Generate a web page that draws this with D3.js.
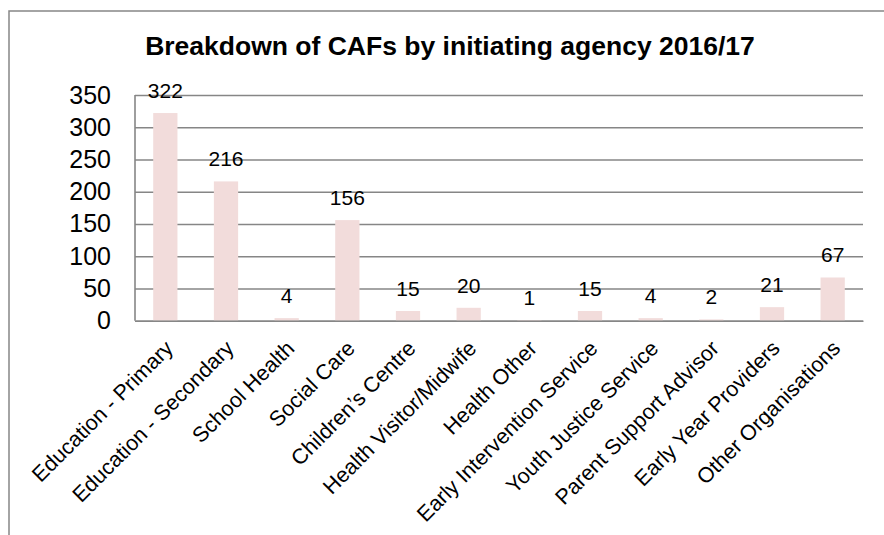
<!DOCTYPE html>
<html>
<head>
<meta charset="utf-8">
<script src="https://cdn.jsdelivr.net/npm/d3@7/dist/d3.min.js"></script>
<style>
  html, body { margin: 0; padding: 0; background: #ffffff; }
  svg { display: block; font-family: "Liberation Sans", Arial, sans-serif; }
</style>
</head>
<body>
<svg id="chart" width="884" height="535"></svg>
<script>
// Initiating agencies and the number of CAFs each started in 2016/17
const agencies = [
  "Education - Primary", "Education - Secondary", "School Health", "Social Care",
  "Children\u2019s Centre", "Health Visitor/Midwife", "Health Other",
  "Early Intervention Service", "Youth Justice Service", "Parent Support Advisor",
  "Early Year Providers", "Other Organisations"
];
const cafCounts = [322, 216, 4, 156, 15, 20, 1, 15, 4, 2, 21, 67];
const yTicks = [0, 50, 100, 150, 200, 250, 300, 350];
const chartTitle = "Breakdown of CAFs by initiating agency 2016/17";

const svg = d3.select("#chart");
const gridColor = "#868686";

// Outer chart frame (runs past the right and bottom edges of the page)
svg.append("rect")
  .attr("x", 9).attr("y", 11)
  .attr("width", 882).attr("height", 540)
  .attr("fill", "none")
  .attr("stroke", gridColor)
  .attr("stroke-width", 1.5);

// Title
svg.append("text")
  .attr("x", 450).attr("y", 55)
  .attr("text-anchor", "middle")
  .attr("font-size", 26.5)
  .attr("font-weight", "bold")
  .attr("fill", "#000")
  .text(chartTitle);

const plot = { left: 135, right: 863, top: 95, bottom: 320.7 };

const x = d3.scaleBand()
  .domain(agencies)
  .range([plot.left, plot.right])
  .paddingInner(0.6)
  .paddingOuter(0.3);

const y = d3.scaleLinear()
  .domain([0, 350])
  .range([plot.bottom, plot.top]);

// Horizontal gridlines with value labels
const yAxis = d3.axisLeft(y)
  .tickValues(yTicks)
  .tickSize(-(plot.right - plot.left))
  .tickPadding(24)
  .tickFormat(d3.format("d"));

const yg = svg.append("g")
  .attr("transform", `translate(${plot.left},0)`)
  .call(yAxis);
yg.select(".domain").remove();
yg.selectAll(".tick line")
  .attr("stroke", gridColor)
  .attr("stroke-width", 1.6);
yg.selectAll(".tick text")
  .attr("font-size", 25)
  .attr("fill", "#000")
  .attr("font-family", "Liberation Sans, Arial, sans-serif");

// Bars
svg.append("g").selectAll("rect")
  .data(agencies)
  .join("rect")
  .attr("x", d => x(d))
  .attr("width", x.bandwidth())
  .attr("y", (d, i) => y(cafCounts[i]))
  .attr("height", (d, i) => y(0) - y(cafCounts[i]))
  .attr("fill", "#F2DCDB");

// Left value axis line
svg.append("line")
  .attr("x1", plot.left).attr("x2", plot.left)
  .attr("y1", plot.top).attr("y2", plot.bottom)
  .attr("stroke", gridColor).attr("stroke-width", 1.6);

// Category axis line and rotated labels
const xAxis = d3.axisBottom(x).tickSize(0).tickPadding(0);
const xg = svg.append("g")
  .attr("transform", `translate(0,${plot.bottom})`)
  .call(xAxis);
xg.select(".domain")
  .attr("stroke", gridColor)
  .attr("stroke-width", 1.6);
xg.selectAll(".tick text")
  .attr("font-size", 21.5)
  .attr("fill", "#000")
  .attr("font-family", "Liberation Sans, Arial, sans-serif")
  .attr("text-anchor", "end")
  .attr("dy", null)
  .attr("y", null)
  .attr("transform", "translate(9,29) rotate(-45)");

// Value labels above bars
svg.append("g").selectAll("text")
  .data(agencies)
  .join("text")
  .attr("x", d => x(d) + x.bandwidth() / 2)
  .attr("y", (d, i) => y(cafCounts[i]) - 15)
  .attr("text-anchor", "middle")
  .attr("font-size", 21)
  .attr("fill", "#000")
  .text((d, i) => cafCounts[i]);
</script>
</body>
</html>
